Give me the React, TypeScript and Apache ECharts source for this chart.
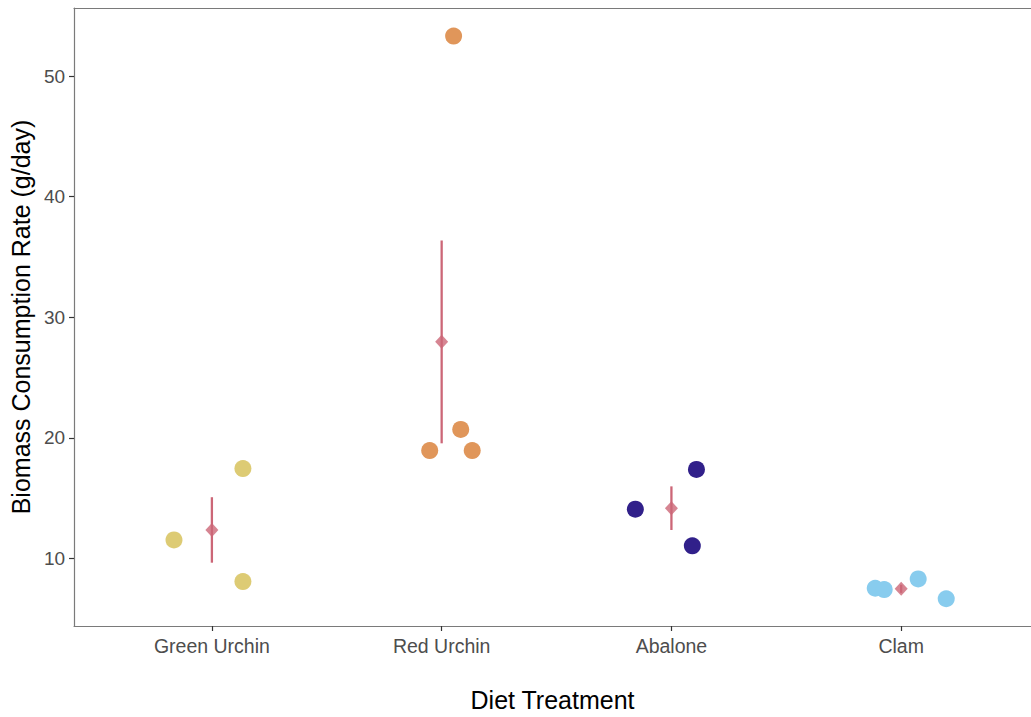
import React, { useEffect, useRef } from "react";
import * as echarts from "echarts";

const categories = ["Green Urchin", "Red Urchin", "Abalone", "Clam"];
const colors = ["#DDCB74", "#E0965A", "#31208A", "#88CCEE"];

// jittered observations: [x position, value]
const greenUrchin = [[0.835, 11.54], [1.135, 17.46], [1.135, 8.08]];
const redUrchin = [[2.052, 53.32], [2.083, 20.7], [1.948, 18.95], [2.133, 18.95]];
const abalone = [[2.843, 14.09], [3.109, 17.38], [3.091, 11.05]];
const clam = [[3.887, 7.53], [3.926, 7.42], [4.074, 8.3], [4.196, 6.66]];

const means = [12.36, 27.98, 14.17, 7.48];
const lowers = [9.65, 19.55, 12.36, 7.15];
const uppers = [15.08, 36.37, 15.98, 7.82];

const yTicks = [10, 20, 30, 40, 50];
const xTicks = [1, 2, 3, 4];

export default function App() {
  const ref = useRef<HTMLDivElement>(null);
  useEffect(() => {
    document.body.style.margin = "0";
    const chart = echarts.init(ref.current!, undefined, { renderer: "svg" });
    const groups = [greenUrchin, redUrchin, abalone, clam];
    const font = "Liberation Sans, Arial, Helvetica, sans-serif";
    chart.setOption({
      animation: false,
      backgroundColor: "#ffffff",
      grid: { left: 73, right: 0, top: 8, bottom: 86, containLabel: false },
      xAxis: [
        {
          type: "value",
          min: 0.4,
          max: 4.565,
          name: "Diet Treatment",
          nameLocation: "middle",
          nameGap: 61,
          nameTextStyle: { fontSize: 25, color: "#000", fontFamily: font },
          axisLine: { show: true, lineStyle: { color: "#7a7a7a", width: 1.2 } },
          axisTick: { show: true, length: 5, lineStyle: { color: "#333", width: 1.2 }, customValues: xTicks },
          axisLabel: {
            customValues: xTicks,
            formatter: (v: number) => categories[Math.round(v) - 1] ?? "",
            fontSize: 19.5,
            color: "#4D4D4D",
            margin: 10,
            fontFamily: font,
          },
          splitLine: { show: false },
        },
        {
          type: "value",
          position: "top",
          min: 0.4,
          max: 4.565,
          axisLine: { show: true, lineStyle: { color: "#7a7a7a", width: 1.2 } },
          axisTick: { show: false },
          axisLabel: { show: false },
          splitLine: { show: false },
        },
      ],
      yAxis: {
        type: "value",
        min: 4.4,
        max: 55.65,
        name: "Biomass Consumption Rate (g/day)",
        nameLocation: "middle",
        nameGap: 40,
        nameTextStyle: { fontSize: 25, color: "#000", fontFamily: font },
        axisLine: { show: true, lineStyle: { color: "#7a7a7a", width: 1.2 } },
        axisTick: { show: true, length: 5, lineStyle: { color: "#333", width: 1.2 }, customValues: yTicks },
        axisLabel: {
          customValues: yTicks,
          fontSize: 19,
          color: "#4D4D4D",
          margin: 9,
          fontFamily: font,
        },
        splitLine: { show: false },
      },
      series: [
        ...groups.map((g, i) => ({
          type: "scatter",
          name: categories[i],
          data: g,
          symbol: "circle",
          symbolSize: 17,
          itemStyle: { color: colors[i], opacity: 1 },
        })),
        {
          type: "custom",
          name: "se",
          data: means.map((m, i) => [xTicks[i], lowers[i], uppers[i]]),
          renderItem: (params: any, api: any) => {
            const x = api.value(0);
            const p1 = api.coord([x, api.value(1)]);
            const p2 = api.coord([x, api.value(2)]);
            return {
              type: "line",
              shape: { x1: p1[0], y1: p1[1], x2: p2[0], y2: p2[1] },
              style: { stroke: "#CC6677", lineWidth: 2.3 },
            };
          },
          z: 3,
        },
        {
          type: "scatter",
          name: "mean",
          data: means.map((m, i) => [xTicks[i], m]),
          symbol: "diamond",
          symbolSize: [13, 14],
          itemStyle: { color: "#CC6677" },
          z: 4,
        },
      ],
    });
    return () => chart.dispose();
  }, []);
  return <div ref={ref} style={{ width: 1031, height: 717 }} />;
}
